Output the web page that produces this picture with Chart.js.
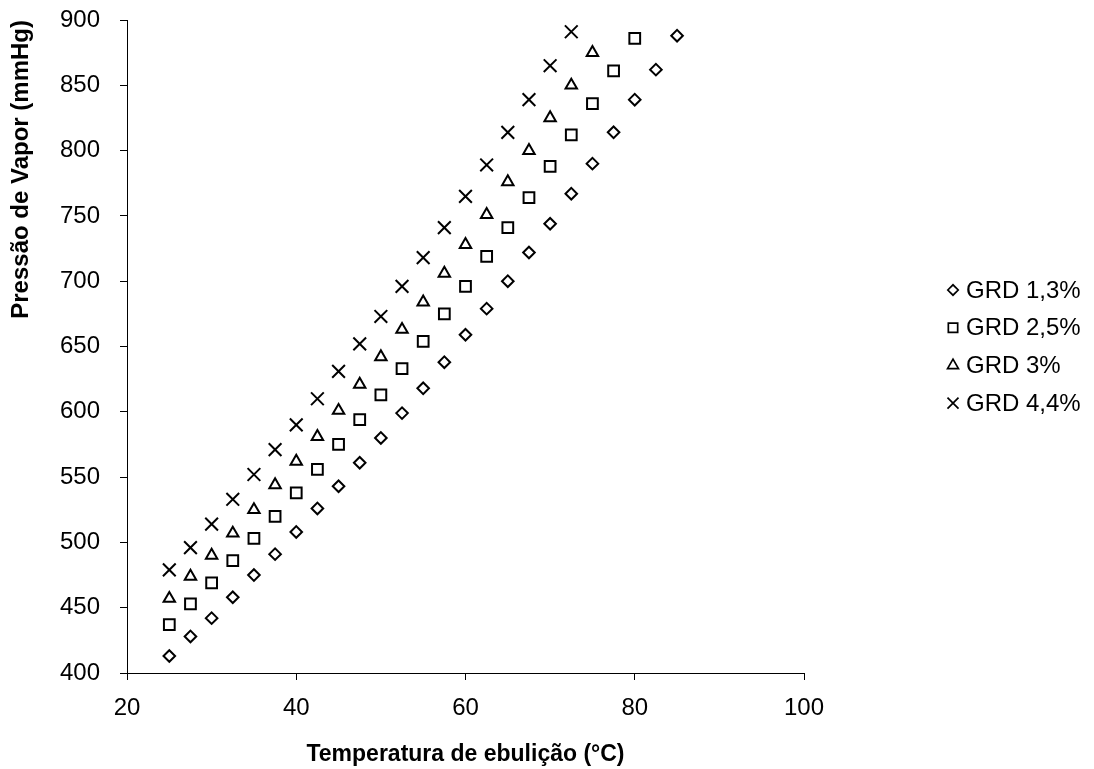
<!DOCTYPE html>
<html lang="pt">
<head>
    <meta charset="UTF-8">
    <title>Pressão de Vapor x Temperatura de ebulição</title>
    <script src="https://cdn.jsdelivr.net/npm/chart.js"></script>
    <style>
        body { margin: 0; background: #fff; }
        #vaporChart { display: block; }
    </style>
</head>
<body>
    <canvas id="vaporChart" width="1094" height="769"></canvas>
    <script>
        // temperaturas (°C) e pressões (mmHg)
        var temperatures = [25, 27.5, 30, 32.5, 35, 37.5, 40, 42.5, 45, 47.5, 50, 52.5, 55, 57.5, 60, 62.5, 65, 67.5, 70, 72.5, 75, 77.5, 80, 82.5, 85];
        var grd13 = [413, 428, 442, 458, 475, 491, 508, 526, 543, 561, 580, 599, 618, 638, 659, 679, 700, 722, 744, 767, 790, 814, 839, 862, 888];
        var grd25 = [437, 453, 469, 486, 503, 520, 538, 556, 575, 594, 613, 633, 654, 675, 696, 719, 741, 764, 788, 812, 836, 861, 886];
        var grd3 = [457, 474, 490, 507, 525, 544, 562, 581, 601, 621, 642, 663, 684, 706, 728, 751, 776, 800, 825, 850, 875];
        var grd44 = [479, 496, 514, 533, 552, 571, 590, 610, 631, 652, 673, 696, 718, 741, 765, 789, 814, 839, 865, 891];
        var seriesNames = ['GRD 1,3%', 'GRD 2,5%', 'GRD 3%', 'GRD 4,4%'];
        var xTicks = [20, 40, 60, 80, 100];
        var yTicks = [400, 450, 500, 550, 600, 650, 700, 750, 800, 850, 900];

        var fontFamily = "'Liberation Sans', Arial, sans-serif";

        function toPoints(values) {
            return values.map(function (v, i) { return { x: temperatures[i], y: v }; });
        }

        var markers = [
            { style: 'rectRot', radius: 5.8, legendRadius: 5.2 },
            { style: 'rect', radius: 7.6, legendRadius: 6.6 },
            { style: 'triangle', radius: 6.6, legendRadius: 6.3 },
            { style: 'crossRot', radius: 9, legendRadius: 7.8 }
        ];

        var allSeries = [grd13, grd25, grd3, grd44];
        var datasets = allSeries.map(function (values, i) {
            return {
                label: seriesNames[i],
                data: toPoints(values),
                pointStyle: markers[i].style,
                pointRadius: markers[i].radius,
                pointBorderColor: '#000',
                pointBackgroundColor: 'rgba(255,255,255,0)',
                pointBorderWidth: 2,
                showLine: false
            };
        });

        // legenda desenhada à direita, como no original
        var sideLegend = {
            id: 'sideLegend',
            afterDraw: function (chart) {
                var ctx = chart.ctx;
                ctx.save();
                chart.data.datasets.forEach(function (ds, i) {
                    var y = 290 + i * 37.7;
                    ctx.strokeStyle = '#000';
                    ctx.fillStyle = 'rgba(255,255,255,0)';
                    ctx.lineWidth = 1.7;
                    Chart.helpers.drawPoint(ctx, {
                        pointStyle: markers[i].style,
                        radius: markers[i].legendRadius,
                        rotation: 0,
                        borderWidth: 1.7
                    }, 953, y);
                    ctx.fillStyle = '#000';
                    ctx.font = '24px ' + fontFamily;
                    ctx.textBaseline = 'middle';
                    ctx.textAlign = 'left';
                    ctx.fillText(ds.label, 966, y + 1);
                });
                ctx.restore();
            }
        };

        var ctx = document.getElementById('vaporChart').getContext('2d');
        var vaporChart = new Chart(ctx, {
            type: 'scatter',
            data: { datasets: datasets },
            plugins: [sideLegend],
            options: {
                responsive: false,
                animation: false,
                events: [],
                layout: { padding: { left: 0, top: 20, right: 290, bottom: 0 } },
                plugins: {
                    legend: { display: false },
                    tooltip: { enabled: false }
                },
                scales: {
                    x: {
                        type: 'linear',
                        min: xTicks[0],
                        max: xTicks[xTicks.length - 1],
                        afterBuildTicks: function (scale) {
                            scale.ticks = xTicks.map(function (v) { return { value: v }; });
                        },
                        afterFit: function (scale) { scale.height = 96; },
                        ticks: {
                            color: '#000',
                            font: { family: fontFamily, size: 24 },
                            padding: 14,
                            maxRotation: 0
                        },
                        grid: { drawOnChartArea: false, tickLength: 7, color: '#000' },
                        border: { color: '#000', width: 1 },
                        title: {
                            display: true,
                            text: 'Temperatura de ebulição (°C)',
                            color: '#000',
                            font: { family: fontFamily, size: 23, weight: 'bold' },
                            padding: { top: 0, bottom: 1 }
                        }
                    },
                    y: {
                        type: 'linear',
                        min: yTicks[0],
                        max: yTicks[yTicks.length - 1],
                        afterBuildTicks: function (scale) {
                            scale.ticks = yTicks.map(function (v) { return { value: v }; });
                        },
                        afterFit: function (scale) {
                            scale.width = 127;
                            scale.paddingTop = 0;
                            scale.paddingBottom = 0;
                        },
                        ticks: {
                            color: '#000',
                            font: { family: fontFamily, size: 24 },
                            padding: 20
                        },
                        grid: { drawOnChartArea: false, tickLength: 7, color: '#000' },
                        border: { color: '#000', width: 1 },
                        title: {
                            display: true,
                            text: 'Pressão de Vapor (mmHg)',
                            align: 'end',
                            color: '#000',
                            font: { family: fontFamily, size: 24, weight: 'bold' },
                            padding: { top: 7, bottom: 0 }
                        }
                    }
                }
            }
        });
    </script>
</body>
</html>
